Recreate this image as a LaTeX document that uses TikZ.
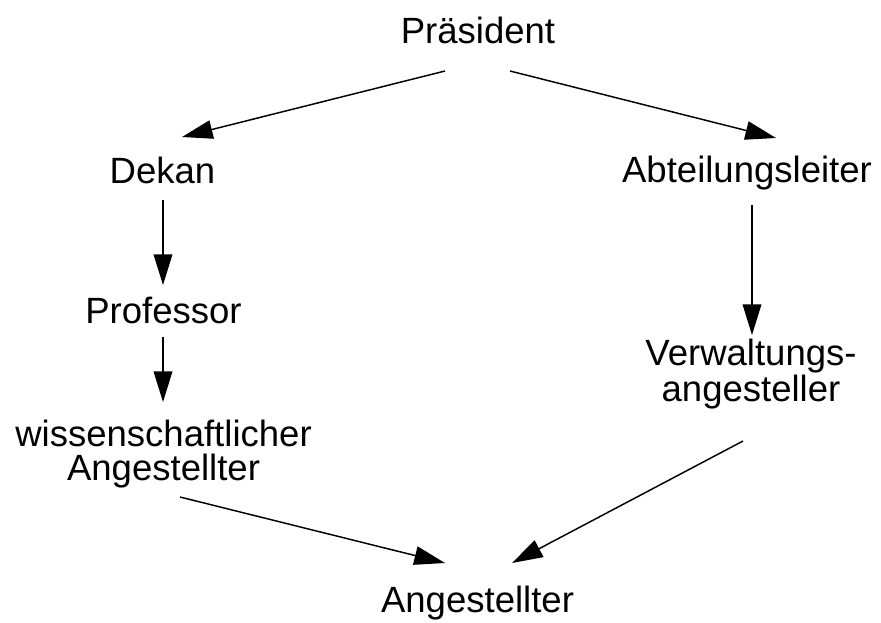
\documentclass[tikz,border=0pt]{standalone}
\usepackage{fontspec}
\setmainfont{Liberation Sans}
\usetikzlibrary{arrows.meta,calc}

\tikzset{every picture/.style={line width=1.1pt}}
\tikzset{
  lbl/.style={anchor=base, inner sep=0pt, align=center,
    font=\fontsize{27.4}{25.5}\selectfont},
  arr/.style={-{Triangle[length=23pt,width=14pt]}, line width=1.1pt}
}

\begin{document}
\begin{tikzpicture}[x=0.75pt,y=0.75pt,yscale=-1,xscale=1]
%set diagram left start at 0, and has height of 622
\useasboundingbox (0,0) rectangle (881,622);

% Text Node
\node[lbl] (praes) at (478,43) {Präsident};
% Text Node
\node[lbl] (dekan) at (162.5,183) {Dekan};
% Text Node
\node[lbl] (abtl) at (747,182) {Abteilungsleiter};
% Text Node
\node[lbl] (prof) at (163.5,323) {Professor};
% Text Node (base = last line)
\node[lbl] (verw) at (751,401) {Verwaltungs-\\angesteller};
% Text Node (base = last line)
\node[lbl] (wimi) at (163.5,480) {wissenschaftlicher\\Angestellter};
% Text Node
\node[lbl] (ang) at (477.5,612) {Angestellter};

%Straight Lines
\draw[arr] ($(praes.base)+(-33,28)$) -- ($(dekan.base)+(19.5,-46)$);
%Straight Lines
\draw[arr] ($(praes.base)+(32,28)$) -- ($(abtl.base)+(29,-44)$);
%Straight Lines
\draw[arr] ($(dekan.base)+(0.5,17)$) -- ($(prof.base)+(-0.5,-38)$);
%Straight Lines
\draw[arr] ($(prof.base)+(-0.5,14)$) -- ($(wimi.base)+(-0.5,-78)$);
%Straight Lines
\draw[arr] ($(abtl.base)+(5,23)$) -- ($(verw.base)+(1,-66)$);
%Straight Lines
\draw[arr] ($(wimi.base)+(16.5,17)$) -- ($(ang.base)+(-32.5,-49)$);
%Straight Lines
\draw[arr] ($(verw.base)+(-8,40)$) -- ($(ang.base)+(34.5,-49)$);

\end{tikzpicture}
\end{document}
